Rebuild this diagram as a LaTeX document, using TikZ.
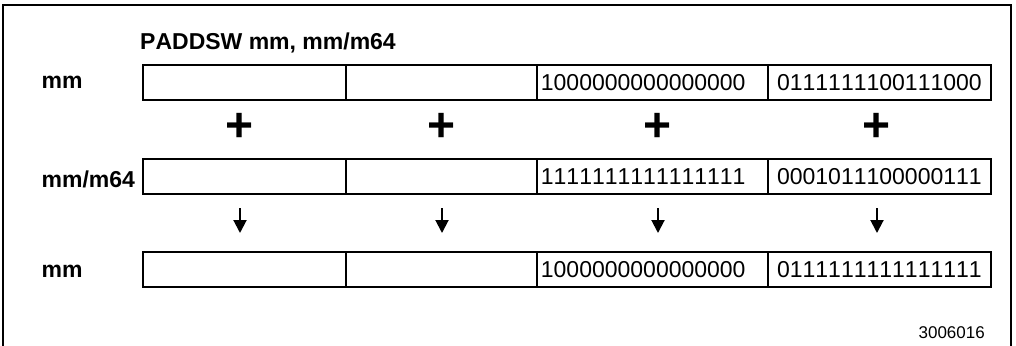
\documentclass[tikz,border=0pt]{standalone}
\usepackage{fontspec}
\setmainfont{Liberation Sans}[Kerning=Off]
\usetikzlibrary{arrows.meta}

\begin{document}
\begin{tikzpicture}[x=1pt,y=-1pt,
    cell/.style={draw,line width=1.8pt,minimum height=35pt,inner sep=0pt,
      anchor=north west,font=\fontsize{23}{26}\selectfont},
    lbl/.style={anchor=base west,inner sep=0pt,font=\bfseries\fontsize{23}{26}\selectfont},
    plussign/.style={inner sep=0pt,font=\bfseries\fontsize{48}{50}\selectfont},
    down/.style={line width=2pt,-{Triangle[length=13pt,width=13pt]}}]
    \useasboundingbox (0,0) rectangle (1016,345);
    \draw[line width=2pt] (3,360) |- (1011,5) -- (1011,360);
    \node[lbl] (title) at (140,49) {PADDSW mm, mm/m64};
    \node[lbl] (lmm) at (41.5,88) {mm};
    \node[lbl] (lsrc) at (41.5,187) {mm/m64};
    \node[lbl] (lres) at (41.5,277) {mm};
    \foreach \r/\y/\a/\b in {1/64/1000000000000000/0111111100111000,
                             2/158/1111111111111111/0001011100000111,
                             3/251/1000000000000000/0111111111111111}{
      \node[cell,minimum width=203pt] (r\r-c1) at (142,\y) {};
      \node[cell,minimum width=191pt] (r\r-c2) at (345,\y) {};
      \node[cell,inner xsep=4pt,text width=223pt,align=left] (r\r-c3) at (536,\y) {\a};
      \node[cell,minimum width=223pt] (r\r-c4) at (767,\y) {\b};
    }
    \foreach \c/\x in {1/240,2/442,3/658,4/877}{
      \node[plussign] (p\c) at (\x,127) {+};
      \coordinate (a\c) at (\x,208);
      \coordinate (b\c) at (\x,233);
      \draw[down] (a\c) -- (b\c);
    }
    \node[anchor=base east,inner sep=0pt,font=\fontsize{17}{20}\selectfont] (fig) at (985,338) {3006016};
\end{tikzpicture}
\end{document}
